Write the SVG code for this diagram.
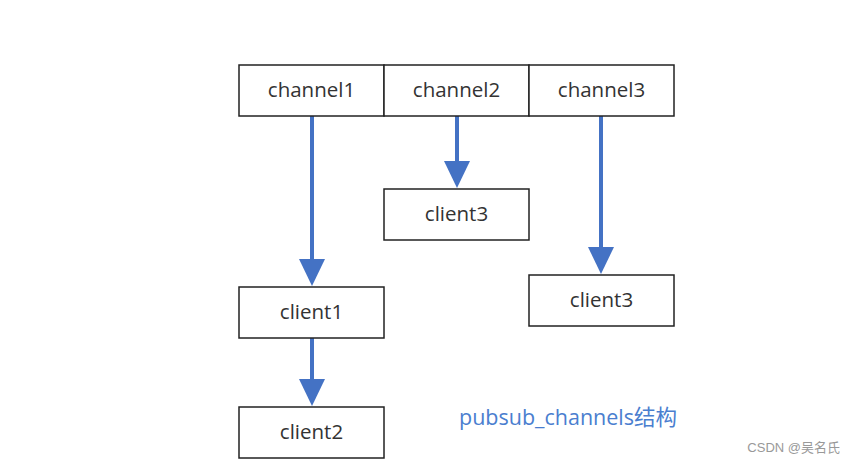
<svg xmlns="http://www.w3.org/2000/svg" width="854" height="463" viewBox="0 0 854 463">
<style>
.box{fill:#fff;stroke:#222;stroke-width:1.5}
.lbl{font-family:"Open Sans","Noto Sans",sans-serif;font-size:20.5px;fill:#333;text-anchor:middle}
.conn{stroke:#4472C4;stroke-width:4;fill:none}
.head{fill:#4472C4}
</style>
<rect width="854" height="463" fill="#fff"/>
<g id="connectors">
<line class="conn" x1="312" y1="116" x2="312" y2="262"/>
<polygon class="head" points="299,259 325,259 312,286"/>
<line class="conn" x1="457" y1="116" x2="457" y2="164"/>
<polygon class="head" points="444,161 470,161 457,188"/>
<line class="conn" x1="601" y1="116" x2="601" y2="250"/>
<polygon class="head" points="588,247 614,247 601,274"/>
<line class="conn" x1="312" y1="338" x2="312" y2="382"/>
<polygon class="head" points="299,379 325,379 312,406"/>
</g>
<g id="channel1"><rect class="box" x="239" y="65" width="145" height="51"/><text class="lbl" x="311.5" y="97">channel1</text></g>
<g id="channel2"><rect class="box" x="384" y="65" width="145" height="51"/><text class="lbl" x="456.5" y="97">channel2</text></g>
<g id="channel3"><rect class="box" x="529" y="65" width="145" height="51"/><text class="lbl" x="601.5" y="97">channel3</text></g>
<g id="client3a"><rect class="box" x="384" y="189" width="145" height="51"/><text class="lbl" x="456.5" y="221">client3</text></g>
<g id="client3b"><rect class="box" x="529" y="275" width="145" height="51"/><text class="lbl" x="601.5" y="307">client3</text></g>
<g id="client1"><rect class="box" x="239" y="287" width="145" height="51"/><text class="lbl" x="311.5" y="319">client1</text></g>
<g id="client2"><rect class="box" x="239" y="407" width="145" height="51"/><text class="lbl" x="311.5" y="439">client2</text></g>
<text x="459" y="425" font-family="'Open Sans','Noto Sans CJK SC',sans-serif" font-size="21.5" fill="#4a7ecf">pubsub_channels结构</text>
<text x="840" y="452" text-anchor="end" font-family="'Liberation Sans','Noto Sans CJK SC',sans-serif" font-size="13" fill="#999">CSDN @吴名氏</text>
</svg>
